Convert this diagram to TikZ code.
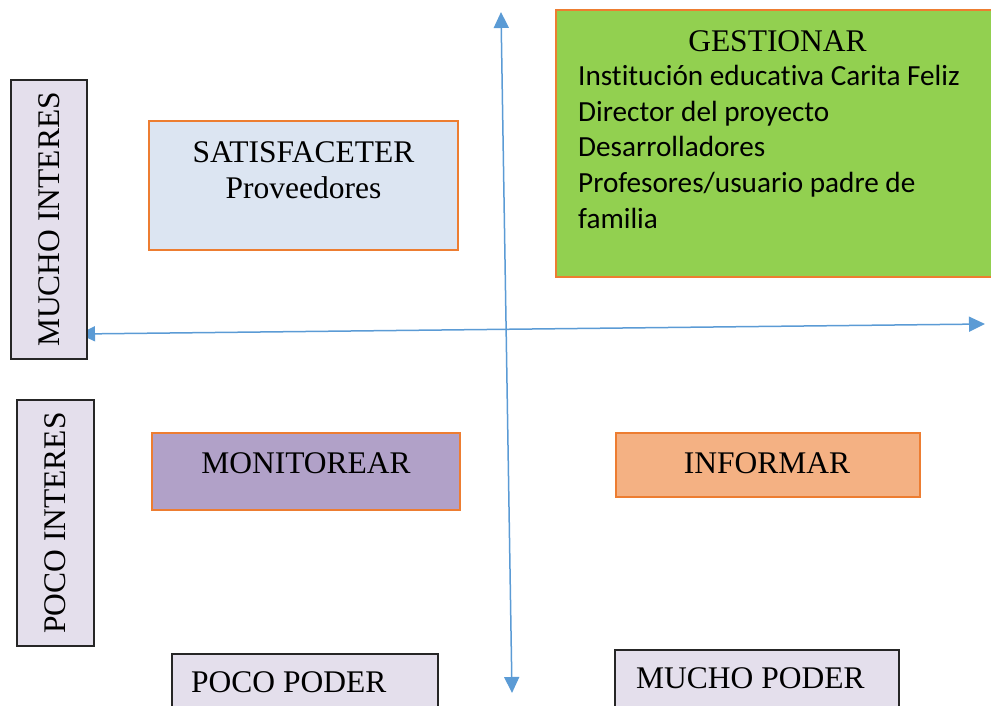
\documentclass[tikz,border=0pt]{standalone}
\usepackage{fontspec}
\setmainfont{Liberation Serif}
\newfontfamily\calibri[Ligatures=NoCommon]{Carlito}
\usetikzlibrary{arrows.meta}
\definecolor{azul}{HTML}{5B9BD5}
\definecolor{naranja}{HTML}{ED7D31}
\definecolor{verde}{HTML}{92D050}
\definecolor{celeste}{HTML}{DCE5F2}
\definecolor{morado}{HTML}{B1A1C8}
\definecolor{salmon}{HTML}{F4B183}
\definecolor{lila}{HTML}{E4DFEC}
\tikzstyle{cuadro} = [rectangle, draw=naranja, line width=2.8pt, inner sep=0pt]
\tikzstyle{eje} = [rectangle, draw=black!85, fill=lila, line width=1.2pt, inner sep=0pt, font=\fontsize{31.5}{36}\selectfont]
\tikzstyle{titulo} = [anchor=base, inner sep=0pt, font=\fontsize{31.5}{36}\selectfont]
\tikzstyle{lista} = [anchor=base west, inner sep=0pt, font=\calibri\fontsize{29.2}{36}\selectfont]
\tikzstyle{arrow} = [draw=azul, line width=1.5pt, <->, >={Triangle[length=16pt,width=15pt]}]
\pgfdeclarelayer{background}
\pgfsetlayers{background,main}
\begin{document}
\begin{tikzpicture}[x=1pt, y=-1pt]
					\useasboundingbox (0,0) rectangle (991,706);
					% cuadrantes
					\node (satisf) [cuadro, fill=celeste, minimum width=309pt, minimum height=129pt] at (303.5,185.5) {};
					\node (gestion) [cuadro, fill=verde, minimum width=464pt, minimum height=267pt] at (788,143.5) {};
					\node (monitor) [cuadro, fill=morado, minimum width=308pt, minimum height=77pt] at (306,471.5) {};
					\node (inform) [cuadro, fill=salmon, minimum width=304pt, minimum height=64pt] at (768,465) {};
					\node (tsatisf) [titulo] at (303.5,163) {SATISFACETER};
					\node (tprov) [titulo] at (303.5,198) {Proveedores};
					\node (tgestion) [titulo] at (777.5,52) {GESTIONAR};
					\node (l1) [lista] at (578,86) {Institución educativa Carita Feliz};
					\node (l2) [lista] at (578,122) {Director del proyecto};
					\node (l3) [lista] at (578,157) {Desarrolladores};
					\node (l4) [lista] at (578,193) {Profesores/usuario padre de};
					\node (l5) [lista] at (578,229) {familia};
					\node (tmonitor) [titulo] at (306,473) {MONITOREAR};
					\node (tinform) [titulo] at (767,473) {INFORMAR};
					% ejes
					\node (mint) [eje, rotate=90, minimum width=279pt, minimum height=76pt] at (49,219.5) {MUCHO INTERES};
					\node (pint) [eje, rotate=90, minimum width=246pt, minimum height=77pt] at (55.5,523) {POCO INTERES};
					\node (ppod) [eje, minimum width=266pt, minimum height=66pt] at (305,687) {};
					\node (mpod) [eje, minimum width=284pt, minimum height=70pt] at (757,685) {};
					\node (tppod) [titulo, anchor=base west] at (191,692) {POCO PODER};
					\node (tmpod) [titulo, anchor=base west] at (636,688) {MUCHO PODER};
					\coordinate (vtop) at (501,12);
					\coordinate (vbot) at (512,693);
					\coordinate (hizq) at (79,334);
					\coordinate (hder) at (985,324);
					\begin{pgfonlayer}{background}
						\draw [arrow] (vbot)--(vtop);
						\draw [arrow] (hizq)--(hder);
					\end{pgfonlayer}
				\end{tikzpicture}
\end{document}
